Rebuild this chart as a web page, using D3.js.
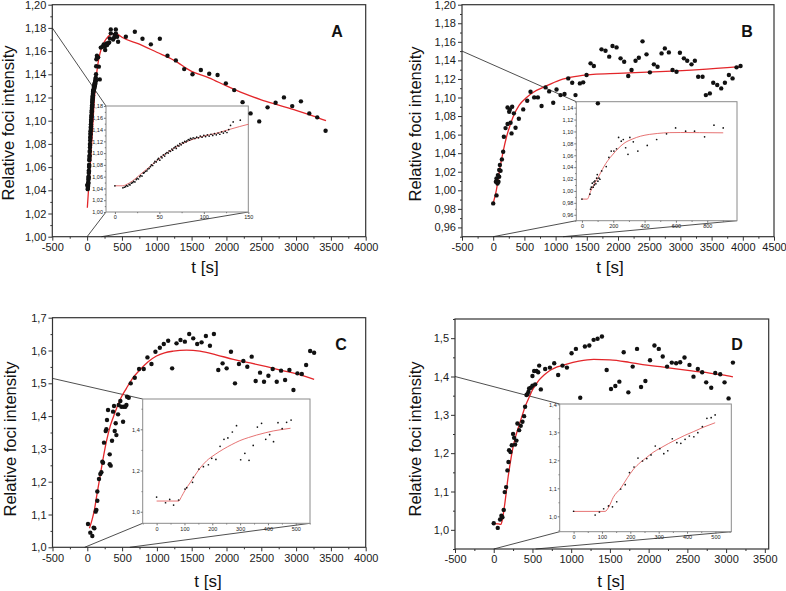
<!DOCTYPE html>
<html>
<head>
<meta charset="utf-8">
<script src="https://cdn.jsdelivr.net/npm/d3@7"></script>
<style>
  body { margin: 0; background: #fff; }
  svg { display: block; font-family: Arial, "Liberation Sans", sans-serif; }
</style>
</head>
<body>
<div class="fig"></div>
<script>
// ---- data: [t (s), relative intensity] ----
const ptsAin = [[0,1.0445],[9,1.041],[10.5,1.042],[12,1.043],[13,1.045],[14.5,1.044],[16,1.047],[17,1.046],[18.5,1.049],[20,1.050],[21,1.052],[22.5,1.051],[24,1.055],[25,1.057],[26.5,1.056],[28,1.060],[29,1.062],[30.5,1.061],[32,1.066],[33,1.067],[34.5,1.069],[36,1.070],[37,1.073],[38.5,1.074],[40,1.077],[41,1.080],[42.5,1.079],[44,1.083],[45,1.086],[46.5,1.085],[48,1.089],[49,1.091],[50.5,1.088],[52,1.094],[53,1.092],[54.5,1.097],[56,1.095],[57,1.099],[58.5,1.101],[60,1.100],[61,1.104],[62.5,1.103],[64,1.107],[65,1.105],[66.5,1.109],[68,1.111],[69,1.108],[70.5,1.113],[72,1.112],[73,1.116],[74.5,1.114],[76,1.118],[77,1.117],[78.5,1.120],[80,1.119],[81,1.121],[82.5,1.123],[84,1.122],[85,1.125],[86.5,1.124],[88,1.126],[90,1.125],[92,1.127],[94,1.126],[96,1.129],[98,1.127],[100,1.130],[102,1.128],[104,1.131],[106,1.129],[108,1.132],[110,1.130],[112,1.133],[114,1.131],[116,1.134],[118,1.132],[120,1.136],[122,1.134],[124,1.137],[126,1.135],[128,1.140],[130,1.147],[133,1.153],[141,1.156]];
const ptsAlate = [[144,1.155],[158,1.1546],[168,1.1466],[182,1.1356],[196,1.163],[220,1.1638],[239,1.1658],[259,1.1644],[259,1.161],[278,1.1667],[287,1.1652],[302,1.1667],[316,1.1675],[326,1.171],[340,1.1753],[340,1.1787],[373,1.170],[388,1.1718],[397,1.1739],[412,1.1787],[412,1.1753],[431,1.1724],[445,1.168],[556,1.1724],[685,1.1767],[795,1.1707],[915,1.1658],[1044,1.1707],[1154,1.156],[1274,1.152],[1394,1.1445],[1513,1.140],[1633,1.1437],[1753,1.1405],[1873,1.1394],[1992,1.1322],[2112,1.1264],[2232,1.116],[2347,1.1063],[2471,1.0994],[2591,1.1115],[2706,1.1155],[2826,1.1201],[2945,1.1126],[3070,1.1167],[3190,1.1063],[3304,1.1029],[3424,1.0914]];
const fitA = [[3,1.025],[25,1.045],[50,1.066],[75,1.09],[100,1.115],[125,1.134],[150,1.147],[185,1.158],[230,1.166],[280,1.171],[330,1.174],[380,1.175],[450,1.174],[500,1.172],[750,1.166],[1000,1.159],[1250,1.152],[1500,1.1425],[1750,1.137],[2000,1.130],[2250,1.1235],[2500,1.118],[2750,1.1135],[3000,1.109],[3250,1.104],[3430,1.100]];
const fitAin = [[0,1.0445],[9,1.0445],[12,1.046],[20,1.053],[28,1.063],[40,1.078],[51,1.092],[62,1.104],[73,1.114],[85,1.122],[100,1.129],[115,1.134],[126,1.139],[140,1.145],[150,1.149]];

const ptsB = [[0,0.9859],[53,0.9945],[43,1.0092],[53,1.0128],[69,1.0074],[75,1.0164],[85,1.0092],[96,1.0218],[96,1.0146],[107,1.0272],[118,1.0211],[139,1.0333],[160,1.0415],[171,1.0577],[198,1.067],[230,1.0714],[230,1.0893],[256,1.0847],[267,1.0872],[278,1.0728],[294,1.0613],[304,1.09],[331,1.0829],[358,1.0674],[411,1.0771],[481,1.0872],[545,1.0965],[598,1.1062],[657,1.1001],[716,1.1001],[775,1.0908],[839,1.1109],[897,1.1066],[962,1.0944],[1015,1.1087],[1079,1.1026],[1143,1.1037],[1202,1.1206],[1266,1.1159],[1319,1.1026],[1389,1.1152],[1442,1.1163],[1496,1.1242],[1560,1.1368],[1613,1.1339],[1677,1.0937],[1736,1.1519],[1800,1.1504],[1859,1.144],[1912,1.1555],[1977,1.154],[2041,1.1422],[2099,1.1386],[2164,1.1231],[2217,1.1296],[2281,1.1396],[2334,1.1429],[2393,1.1605],[2457,1.1465],[2511,1.1271],[2575,1.1357],[2634,1.1332],[2698,1.1475],[2751,1.1529],[2815,1.1486],[2874,1.1296],[2938,1.1278],[2992,1.1483],[3056,1.1422],[3109,1.1396],[3178,1.1357],[3232,1.1396],[3285,1.1224],[3355,1.1224],[3408,1.1026],[3472,1.1044],[3526,1.1159],[3590,1.1134],[3654,1.1098],[3713,1.1159],[3777,1.1242],[3836,1.1206],[3900,1.1325],[3964,1.1339]];
const fitB = [[0,0.986],[50,1.0],[107,1.0236],[160,1.042],[214,1.0577],[270,1.07],[320,1.0793],[420,1.092],[534,1.1],[650,1.106],[801,1.1109],[1068,1.1188],[1300,1.1225],[1603,1.1249],[2000,1.126],[2671,1.1278],[3300,1.13],[3953,1.1332]];
const ptsBin = [[0,0.9863],[51,0.9946],[55,1.003],[60,1.0063],[66,1.013],[72,1.0063],[77,1.0152],[79,1.0102],[83,1.0169],[89,1.0119],[94,1.0214],[98,1.0275],[102,1.0164],[109,1.0214],[115,1.0197],[126,1.0336],[155,1.0409],[172,1.0564],[187,1.067],[204,1.067],[221,1.0709],[234,1.0899],[251,1.0837],[264,1.0865],[279,1.0726],[294,1.0615],[306,1.0899],[328,1.0826],[357,1.067],[417,1.0765],[477,1.0865],[540,1.096],[598,1.106],[662,1.1004],[719,1.1004],[783,1.091],[843,1.1105],[902,1.106]];
const fitBin = [[0,0.9863],[34,0.9863],[55,0.999],[75,1.01],[98,1.02],[120,1.031],[140,1.0408],[165,1.051],[194,1.0604],[230,1.071],[268,1.0799],[320,1.087],[375,1.0921],[430,1.095],[481,1.0966],[560,1.098],[630,1.0982],[750,1.098],[902,1.0977]];

const ptsC = [[10,1.071],[43,1.0447],[72,1.0345],[91,1.06],[101,1.058],[120,1.1087],[130,1.114],[144,1.142],[144,1.17],[168,1.2083],[187,1.2235],[202,1.2286],[216,1.261],[226,1.258],[240,1.319],[264,1.3546],[274,1.3597],[283,1.388],[298,1.4186],[322,1.253],[336,1.249],[322,1.2834],[355,1.325],[370,1.4135],[384,1.4307],[394,1.3546],[408,1.378],[418,1.342],[442,1.4054],[451,1.4338],[475,1.446],[490,1.4287],[514,1.383],[523,1.4287],[547,1.4287],[562,1.4338],[571,1.459],[595,1.456],[624,1.4998],[682,1.517],[744,1.5435],[811,1.5435],[864,1.579],[922,1.5588],[979,1.5964],[1042,1.6086],[1099,1.6198],[1162,1.6299],[1219,1.5456],[1282,1.6218],[1339,1.632],[1402,1.627],[1464,1.6502],[1522,1.637],[1579,1.6198],[1642,1.6248],[1704,1.644],[1762,1.6147],[1819,1.6502],[1882,1.5405],[1944,1.5608],[2002,1.5456],[2064,1.5964],[2122,1.4998],[2179,1.5588],[2242,1.568],[2299,1.5506],[2362,1.5812],[2419,1.507],[2482,1.5324],[2539,1.5049],[2602,1.5232],[2664,1.5435],[2722,1.5049],[2784,1.5385],[2842,1.51],[2904,1.5405],[2962,1.4795],[3019,1.5303],[3082,1.5283],[3144,1.5557],[3202,1.5984],[3259,1.5933]];
const fitC = [[30,1.058],[70,1.085],[106,1.119],[140,1.163],[178,1.21],[225,1.268],[274,1.322],[330,1.37],[394,1.4084],[470,1.45],[562,1.4846],[650,1.515],[754,1.5405],[870,1.565],[994,1.5832],[1110,1.593],[1234,1.598],[1426,1.601],[1618,1.598],[1850,1.587],[2098,1.573],[2340,1.562],[2578,1.5506],[2820,1.538],[3058,1.526],[3259,1.512]];
const ptsCin = [[0,1.0714],[32,1.0437],[47,1.06],[61,1.0325],[79,1.057],[102,1.11],[108,1.1167],[129,1.143],[132,1.167],[152,1.207],[168,1.2185],[186,1.228],[198,1.259],[213,1.254],[228,1.3175],[242,1.3515],[256,1.358],[272,1.387],[287,1.4175],[302,1.2524],[317,1.2835],[332,1.2495],[347,1.322],[362,1.411],[377,1.429],[392,1.3515],[406,1.374],[420,1.34],[436,1.432],[451,1.403],[467,1.434],[483,1.445]];
const fitCin = [[0,1.052],[79,1.052],[90,1.075],[102,1.104],[120,1.14],[135,1.171],[155,1.21],[180,1.2476],[210,1.278],[239,1.303],[270,1.326],[299,1.345],[330,1.36],[359,1.372],[390,1.383],[419,1.392],[450,1.399],[481,1.405]];

const ptsD = [[0,1.0172],[52,1.005],[82,1.0268],[99,1.037],[112,1.033],[129,1.052],[142,1.0984],[160,1.1115],[177,1.155],[190,1.177],[198,1.2075],[216,1.2032],[233,1.2206],[250,1.2503],[263,1.24],[276,1.2224],[293,1.2328],[306,1.2774],[328,1.26],[349,1.2713],[371,1.2818],[392,1.2966],[405,1.321],[423,1.3516],[436,1.3542],[449,1.3603],[457,1.369],[479,1.3708],[500,1.376],[500,1.4014],[522,1.4144],[535,1.3795],[552,1.4144],[574,1.411],[587,1.4284],[608,1.3664],[664,1.4197],[725,1.4232],[781,1.4345],[832,1.404],[888,1.4284],[945,1.4232],[1005,1.4607],[1061,1.472],[1117,1.3446],[1177,1.4782],[1234,1.4808],[1290,1.4956],[1341,1.4983],[1397,1.5044],[1458,1.417],[1514,1.3673],[1570,1.3752],[1622,1.3865],[1678,1.4633],[1738,1.3586],[1794,1.4258],[1850,1.472],[1902,1.3725],[1958,1.3883],[2018,1.4424],[2075,1.4808],[2131,1.472],[2182,1.452],[2238,1.4258],[2299,1.4363],[2355,1.4345],[2407,1.4371],[2463,1.4494],[2527,1.4302],[2579,1.3996],[2635,1.4197],[2691,1.411],[2743,1.3848],[2808,1.3708],[2860,1.4092],[2924,1.4057],[2980,1.3848],[3032,1.3429],[3088,1.4363]];
const fitD = [[0,1.016],[60,1.0155],[90,1.014],[110,1.025],[134,1.055],[160,1.095],[177,1.1246],[210,1.17],[241,1.2075],[285,1.245],[328,1.273],[370,1.3],[414,1.3254],[460,1.347],[500,1.3647],[545,1.379],[587,1.391],[650,1.404],[716,1.4144],[820,1.425],[932,1.4319],[1100,1.44],[1290,1.4445],[1500,1.4435],[1750,1.437],[1924,1.431],[2150,1.4255],[2355,1.4197],[2600,1.4135],[2786,1.409],[2950,1.404],[3088,1.399]];
const ptsDin = [[0,1.018],[76,1.0046],[91,1.0154],[106,1.027],[123,1.037],[137,1.034],[152,1.052],[166,1.0975],[182,1.113],[197,1.156],[213,1.176],[227,1.208],[243,1.1975],[258,1.206],[273,1.219],[288,1.251],[304,1.2415],[318,1.2236],[332,1.234],[348,1.277],[364,1.263],[378,1.2607],[393,1.275],[408,1.2868],[424,1.284],[438,1.2986],[454,1.32],[470,1.35],[485,1.352],[499,1.362]];
const fitDin = [[0,1.0175],[111,1.0175],[125,1.035],[140,1.068],[166,1.1],[190,1.138],[211,1.168],[235,1.192],[258,1.2106],[280,1.228],[305,1.243],[335,1.26],[364,1.275],[392,1.289],[422,1.302],[460,1.319],[499,1.334]];

// ticks
const xTicksA = [-500, 0, 500, 1000, 1500, 2000, 2500, 3000, 3500, 4000];
const xTicksB = [-500, 0, 500, 1000, 1500, 2000, 2500, 3000, 3500, 4000, 4500];
const xTicksD = [-500, 0, 500, 1000, 1500, 2000, 2500, 3000, 3500];
const yTicksA = [1.00, 1.02, 1.04, 1.06, 1.08, 1.10, 1.12, 1.14, 1.16, 1.18, 1.20];
const yTicksB = [0.96, 0.98, 1.00, 1.02, 1.04, 1.06, 1.08, 1.10, 1.12, 1.14, 1.16, 1.18, 1.20];
const yTicksC = [1.0, 1.1, 1.2, 1.3, 1.4, 1.5, 1.6, 1.7];
const yTicksD = [1.0, 1.1, 1.2, 1.3, 1.4, 1.5];
const inXTicksA = [0, 50, 100, 150];
const inYTicksA = [1.00, 1.02, 1.04, 1.06, 1.08, 1.10, 1.12, 1.14, 1.16, 1.18];
const inXTicksB = [0, 200, 400, 600, 800];
const inYTicksB = [0.96, 0.98, 1.00, 1.02, 1.04, 1.06, 1.08, 1.10, 1.12, 1.14];
const inXTicksCD = [0, 100, 200, 300, 400, 500];
const inYTicksC = [1.0, 1.2, 1.4];
const inYTicksD = [1.0, 1.1, 1.2, 1.3, 1.4];
const letters = ["A", "B", "C", "D"];

const loc = d3.formatLocale({decimal: ",", thousands: ".", grouping: [3], currency: ["", ""], minus: "-"});
const f0 = loc.format(".0f"), f1 = loc.format(".1f"), f2 = loc.format(".2f");

const svg = d3.select(".fig").append("svg")
  .attr("width", 786)
  .attr("height", 591);

const RED = "#e3262a";

function minorOf(ticks, lo, hi) {
  // midpoints between majors, plus one on each side if inside domain
  const step = ticks[1] - ticks[0];
  const out = [];
  for (let v = ticks[0] - step / 2; v <= ticks[ticks.length - 1] + step / 2 + 1e-9; v += step) {
    if (v >= lo - 1e-9 && v <= hi + 1e-9) out.push(+v.toFixed(6));
  }
  return out;
}

function styleAxis(sel, size, color) {
  sel.select(".domain").remove();
  sel.selectAll("line").attr("stroke", color);
  sel.selectAll("text").attr("font-size", size).attr("fill", "#1a1a1a");
}

function drawPanel(p) {
  const g = svg.append("g");
  const x = d3.scaleLinear().domain(p.xDomain).range([p.l, p.r]);
  const y = d3.scaleLinear().domain(p.yDomain).range([p.b, p.t]);

  // minor ticks
  g.append("g").attr("transform", `translate(0,${p.b})`)
    .call(d3.axisBottom(x).tickValues(minorOf(p.xTicks, p.xDomain[0], p.xDomain[1])).tickSize(2).tickFormat(""))
    .call(s => styleAxis(s, 0, "#333"));
  g.append("g").attr("transform", `translate(${p.l},0)`)
    .call(d3.axisLeft(y).tickValues(minorOf(p.yTicks, p.yDomain[0], p.yDomain[1])).tickSize(2).tickFormat(""))
    .call(s => styleAxis(s, 0, "#333"));
  // major ticks
  g.append("g").attr("transform", `translate(0,${p.b})`)
    .call(d3.axisBottom(x).tickValues(p.xTicks).tickSize(4).tickPadding(2.5).tickFormat(f0))
    .call(s => styleAxis(s, "11px", "#333"));
  g.append("g").attr("transform", `translate(${p.l},0)`)
    .call(d3.axisLeft(y).tickValues(p.yTicks).tickSize(4).tickPadding(2).tickFormat(p.yFmt))
    .call(s => styleAxis(s, "11px", "#333"));

  g.append("rect")
    .attr("x", p.l).attr("y", p.t)
    .attr("width", p.r - p.l).attr("height", p.b - p.t)
    .attr("fill", "none").attr("stroke", "#333").attr("stroke-width", 1.2);

  // zoom lines
  const ib = p.inset;
  const corners = [[ib.l, ib.t], [ib.l, ib.b], [ib.r, ib.b]];
  p.zoomFrom.forEach((d, i) => {
    g.append("line")
      .attr("x1", x(d[0])).attr("y1", y(d[1]))
      .attr("x2", corners[i][0]).attr("y2", corners[i][1])
      .attr("stroke", "#222").attr("stroke-width", 0.8);
  });

  drawInset(g, ib);

  const line = d3.line().x(d => x(d[0])).y(d => y(d[1])).curve(d3.curveMonotoneX);
  g.append("path")
    .datum(p.fit)
    .attr("d", line)
    .attr("fill", "none").attr("stroke", RED).attr("stroke-width", 1.3);

  g.selectAll("circle.pt").data(p.pts).enter().append("circle")
    .attr("class", "pt")
    .attr("cx", d => x(d[0])).attr("cy", d => y(d[1]))
    .attr("r", 2.2).attr("fill", "#111");

  g.append("text")
    .attr("transform", `translate(${p.ylab[0]},${p.ylab[1]}) rotate(-90)`)
    .attr("text-anchor", "middle").attr("font-size", "16.5px").attr("fill", "#111")
    .text("Relative foci intensity");
  g.append("text")
    .attr("x", p.xlab[0]).attr("y", p.xlab[1])
    .attr("text-anchor", "middle").attr("font-size", "17px").attr("fill", "#111")
    .text("t [s]");
  g.append("text")
    .attr("x", p.letterPos[0]).attr("y", p.letterPos[1])
    .attr("text-anchor", "middle").attr("font-size", "16px").attr("font-weight", "bold").attr("fill", "#111")
    .text(p.letter);
}

function drawInset(g, p) {
  const x = d3.scaleLinear().domain(p.xDomain).range([p.l, p.r]);
  const y = d3.scaleLinear().domain(p.yDomain).range([p.b, p.t]);
  g.append("rect")
    .attr("x", p.l).attr("y", p.t)
    .attr("width", p.r - p.l).attr("height", p.b - p.t)
    .attr("fill", "#fff").attr("stroke", "#8a8a8a").attr("stroke-width", 1);

  g.append("g").attr("transform", `translate(0,${p.b})`)
    .call(d3.axisBottom(x).tickValues(minorOf(p.xTicks, p.xDomain[0], p.xDomain[1])).tickSize(1.2).tickFormat(""))
    .call(s => styleAxis(s, 0, "#777"));
  g.append("g").attr("transform", `translate(${p.l},0)`)
    .call(d3.axisLeft(y).tickValues(minorOf(p.yTicks, p.yDomain[0], p.yDomain[1])).tickSize(1.2).tickFormat(""))
    .call(s => styleAxis(s, 0, "#777"));
  g.append("g").attr("transform", `translate(0,${p.b})`)
    .call(d3.axisBottom(x).tickValues(p.xTicks).tickSize(2).tickPadding(1.5).tickFormat(f0))
    .call(s => styleAxis(s, "5.5px", "#777"));
  g.append("g").attr("transform", `translate(${p.l},0)`)
    .call(d3.axisLeft(y).tickValues(p.yTicks).tickSize(2).tickPadding(1).tickFormat(p.yFmt))
    .call(s => styleAxis(s, "5.5px", "#777"));

  const line = d3.line().x(d => x(d[0])).y(d => y(d[1])).curve(d3.curveMonotoneX);
  g.append("path")
    .datum(p.fit)
    .attr("d", line)
    .attr("fill", "none").attr("stroke", "#e05050").attr("stroke-width", 0.8);

  g.selectAll("circle.ipt" + p.id).data(p.pts).enter().append("circle")
    .attr("class", "ipt" + p.id)
    .attr("cx", d => x(d[0])).attr("cy", d => y(d[1]))
    .attr("r", 0.85).attr("fill", "#111");
}

drawPanel({
  l: 52.3, r: 365.7, t: 4.7, b: 236.7,
  xDomain: [-500, 4000], yDomain: [1.00, 1.20],
  xTicks: xTicksA, yTicks: yTicksA, yFmt: f2,
  pts: ptsAin.concat(ptsAlate), fit: fitA,
  zoomFrom: [[-500, 1.18], [0, 1.00], [206, 1.00]],
  ylab: [14, 123], xlab: [205, 273], letterPos: [337, 37], letter: letters[0],
  inset: {
    id: "a", l: 106, r: 248.3, t: 106, b: 212,
    xDomain: [-10, 150], yDomain: [1.00, 1.18],
    xTicks: inXTicksA, yTicks: inYTicksA, yFmt: f2,
    pts: ptsAin, fit: fitAin
  }
});

drawPanel({
  l: 462, r: 774, t: 4.7, b: 236.7,
  xDomain: [-500, 4500], yDomain: [0.95, 1.20],
  xTicks: xTicksB, yTicks: yTicksB, yFmt: f2,
  pts: ptsB, fit: fitB,
  zoomFrom: [[-500, 1.15], [0, 0.95], [1120, 0.95]],
  ylab: [420.5, 124], xlab: [610, 273], letterPos: [747, 37], letter: letters[1],
  inset: {
    id: "b", l: 576.3, r: 737, t: 101.7, b: 220.7,
    xDomain: [-36, 990], yDomain: [0.95, 1.15],
    xTicks: inXTicksB, yTicks: inYTicksB, yFmt: f2,
    pts: ptsBin, fit: fitBin
  }
});

drawPanel({
  l: 52.5, r: 365.7, t: 317.7, b: 547.3,
  xDomain: [-500, 4000], yDomain: [1.0, 1.7],
  xTicks: xTicksA, yTicks: yTicksC, yFmt: f1,
  pts: ptsC, fit: fitC,
  zoomFrom: [[-500, 1.515], [-38, 1.0], [610, 1.0]],
  ylab: [16, 439], xlab: [208, 586.5], letterPos: [341, 350], letter: letters[2],
  inset: {
    id: "c", l: 142.7, r: 310, t: 399, b: 523.3,
    xDomain: [-50, 551], yDomain: [0.944, 1.547],
    xTicks: inXTicksCD, yTicks: inYTicksC, yFmt: f1,
    pts: ptsCin, fit: fitCin
  }
});

drawPanel({
  l: 455, r: 768.7, t: 319, b: 549,
  xDomain: [-500, 3550], yDomain: [0.95, 1.55],
  xTicks: xTicksD, yTicks: yTicksD, yFmt: f1,
  pts: ptsD, fit: fitD,
  zoomFrom: [[-500, 1.40], [0, 0.95], [540, 0.95]],
  ylab: [420.5, 439], xlab: [611, 586.5], letterPos: [737, 350], letter: letters[3],
  inset: {
    id: "d", l: 559.7, r: 731.3, t: 404, b: 531.7,
    xDomain: [-49, 556], yDomain: [0.945, 1.401],
    xTicks: inXTicksCD, yTicks: inYTicksD, yFmt: f1,
    pts: ptsDin, fit: fitDin
  }
});
</script>
</body>
</html>
